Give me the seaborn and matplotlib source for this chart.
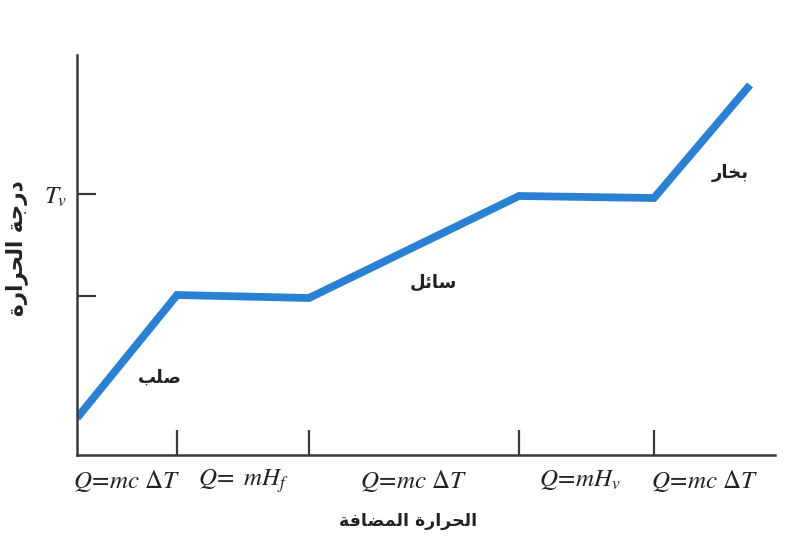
import matplotlib
matplotlib.use("Agg")
import matplotlib.pyplot as plt
import seaborn as sns
import pandas as pd

# ---- data ----
heat = [0, 100, 232, 442, 577, 673]          # added heat (arbitrary units)
temp = [37, 160, 157, 259, 257, 370]          # temperature (arbitrary units)
phase_ticks = [100, 232, 442, 577]            # phase boundaries
segment_mid = [50, 166, 337, 503, 628]
segment_labels = [r"$Q\!=\!mc\ \Delta T$", r"$Q\!=\ mH_f$", r"$Q\!=\!mc\ \Delta T$",
                  r"$Q\!=\!mH_v$", r"$Q\!=\!mc\ \Delta T$"]
y_ticks = [159, 261]
y_tick_labels = ["", r"$T_v$"]
phase_names = ["صلب", "سائل", "بخار"]
phase_pos_x = [83, 356, 653]
phase_pos_y = [77, 172, 282]
xlabel = "الحرارة المضافة"
ylabel = "درجة الحرارة"

# ---- minimal Arabic shaping (matplotlib has no complex text layout) ----
FORMS = {  # isolated, final, initial, medial
    'ا': (0xFE8D, 0xFE8E, None, None),
    'ب': (0xFE8F, 0xFE90, 0xFE91, 0xFE92),
    'ة': (0xFE93, 0xFE94, None, None),
    'ج': (0xFE9D, 0xFE9E, 0xFE9F, 0xFEA0),
    'ح': (0xFEA1, 0xFEA2, 0xFEA3, 0xFEA4),
    'خ': (0xFEA5, 0xFEA6, 0xFEA7, 0xFEA8),
    'د': (0xFEA9, 0xFEAA, None, None),
    'ر': (0xFEAD, 0xFEAE, None, None),
    'س': (0xFEB1, 0xFEB2, 0xFEB3, 0xFEB4),
    'ص': (0xFEB9, 0xFEBA, 0xFEBB, 0xFEBC),
    'ض': (0xFEBD, 0xFEBE, 0xFEBF, 0xFEC0),
    'ف': (0xFED1, 0xFED2, 0xFED3, 0xFED4),
    'ل': (0xFEDD, 0xFEDE, 0xFEDF, 0xFEE0),
    'م': (0xFEE1, 0xFEE2, 0xFEE3, 0xFEE4),
    'ئ': (0xFE89, 0xFE8A, 0xFE8B, 0xFE8C),
}


def shape(text):
    out = []
    n = len(text)
    for i, ch in enumerate(text):
        if ch not in FORMS:
            out.append(ch)
            continue
        iso, fin, ini, med = FORMS[ch]
        prev = text[i - 1] if i > 0 else None
        nxt = text[i + 1] if i < n - 1 else None
        jp = prev in FORMS and FORMS[prev][2] is not None
        jn = nxt in FORMS and ini is not None
        if jp and jn:
            code = med
        elif jp:
            code = fin
        elif jn:
            code = ini
        else:
            code = iso
        out.append(chr(code))
    return "".join(reversed(out))


sns.set_theme(style="white")
plt.rcParams["mathtext.fontset"] = "stix"
plt.rcParams["font.family"] = ["DejaVu Sans"]

fig = plt.figure(figsize=(7.9, 5.55), dpi=100)
ax = fig.add_axes([77 / 790, 100 / 555, 698 / 790, 400 / 555])

df = pd.DataFrame({"heat": heat, "temp": temp})
sns.lineplot(data=df, x="heat", y="temp", ax=ax, color="#2a80d2", linewidth=5.6,
             solid_joinstyle="miter", solid_capstyle="butt", sort=False)

ax.set_xlim(0, 698)
ax.set_ylim(0, 400)
for s in ["top", "right"]:
    ax.spines[s].set_visible(False)
for s in ["left", "bottom"]:
    ax.spines[s].set_color("#3a3a3a")
    ax.spines[s].set_linewidth(1.8)

ax.set_xticks(phase_ticks)
ax.set_xticklabels([""] * len(phase_ticks))
ax.tick_params(axis="x", which="major", bottom=True, direction="in", length=18, width=1.6,
               color="#3a3a3a")
ax.set_xticks(segment_mid, minor=True)
ax.set_xticklabels(segment_labels, minor=True)
ax.tick_params(axis="x", which="minor", bottom=True, length=0, pad=9, labelsize=18,
               labelcolor="#222222")

ax.set_yticks(y_ticks)
ax.set_yticklabels(y_tick_labels)
ax.tick_params(axis="y", left=True, direction="in", length=14, width=1.6, color="#3a3a3a",
               labelsize=18, labelcolor="#222222", pad=7)

ax.set_xlabel(shape(xlabel), fontsize=12.5, fontweight="bold", color="#222222")
ax.xaxis.set_label_coords(331 / 698, -57 / 400)
ax.set_ylabel(shape(ylabel), fontsize=15.5, fontweight="bold", color="#222222")
ax.yaxis.set_label_coords(-49 / 698, 207 / 400)

for name, px, py in zip(phase_names, phase_pos_x, phase_pos_y):
    ax.text(px, py, shape(name), fontsize=13, fontweight="bold", color="#222222",
            ha="center", va="center")

fig.savefig("out.png", dpi=100)
